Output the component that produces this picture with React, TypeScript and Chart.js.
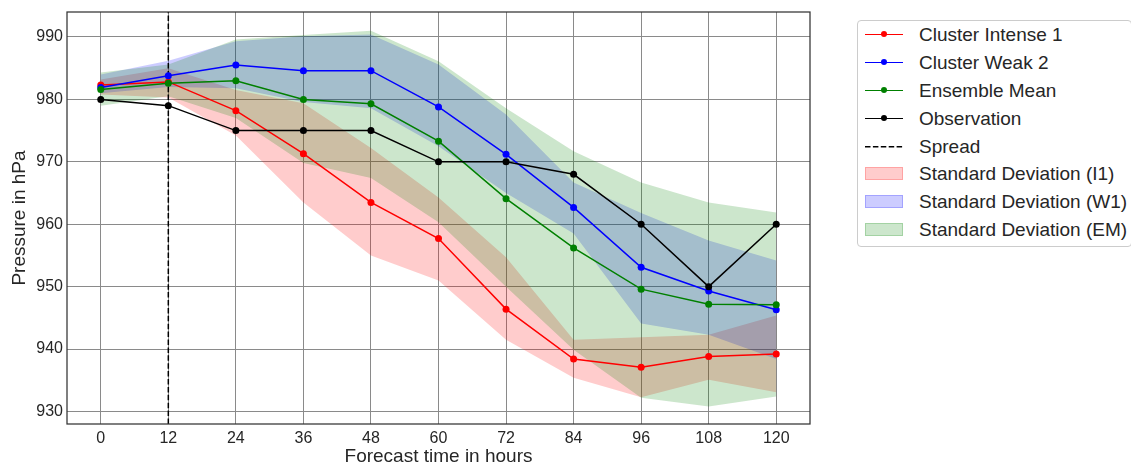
import React, { useEffect, useRef } from "react";
import { Chart, registerables } from "chart.js";

Chart.register(...registerables);

// ---- data ----
const hours = [0, 12, 24, 36, 48, 60, 72, 84, 96, 108, 120];

const intenseMean = [982.3, 982.8, 978.2, 971.3, 963.5, 957.7, 946.4, 938.4, 937.1, 938.8, 939.2];
const intenseUpper = [983.2, 985.0, 981.5, 979.4, 972.2, 964.3, 954.7, 941.5, 941.9, 942.3, 945.4];
const intenseLower = [980.8, 980.3, 974.2, 963.5, 955.0, 951.0, 941.5, 935.4, 932.3, 935.1, 933.1];

const weakMean = [981.9, 983.8, 985.5, 984.6, 984.6, 978.8, 971.2, 962.7, 953.1, 949.3, 946.3];
const weakUpper = [984.0, 986.2, 989.3, 990.1, 990.4, 985.6, 977.6, 966.7, 961.8, 957.4, 954.2];
const weakLower = [981.0, 982.0, 981.8, 979.6, 978.6, 972.5, 965.0, 958.5, 944.1, 942.3, 938.4];

const ensembleMean = [981.6, 982.6, 983.0, 980.0, 979.3, 973.3, 964.1, 956.2, 949.6, 947.2, 947.1];
const ensembleUpper = [984.3, 985.6, 989.6, 990.3, 991.0, 986.1, 978.6, 971.7, 966.7, 963.5, 961.9];
const ensembleLower = [979.0, 980.5, 977.0, 969.8, 967.4, 960.3, 950.0, 939.9, 932.2, 930.8, 932.4];

const observation = [980, 979, 975, 975, 975, 970, 970, 968, 960, 950, 960];

const spreadHour = 12;
const yMin = 928;
const yMax = 994;
const xMin = -6;
const xMax = 126;
const yTicks = [930, 940, 950, 960, 970, 980, 990];
const xTicks = [0, 12, 24, 36, 48, 60, 72, 84, 96, 108, 120];

const legendItems = [
  { label: "Cluster Intense 1", kind: "line", color: "#ff0000" },
  { label: "Cluster Weak 2", kind: "line", color: "#0000ff" },
  { label: "Ensemble Mean", kind: "line", color: "#008000" },
  { label: "Observation", kind: "line", color: "#000000" },
  { label: "Spread", kind: "dash", color: "#000000" },
  { label: "Standard Deviation (I1)", kind: "patch", color: "rgba(255,0,0,0.2)" },
  { label: "Standard Deviation (W1)", kind: "patch", color: "rgba(0,0,255,0.2)" },
  { label: "Standard Deviation (EM)", kind: "patch", color: "rgba(0,128,0,0.2)" },
];

const FONT = "'Liberation Sans', Arial, sans-serif";
const TEXT = "#262626";

const pts = (vals: number[]) => hours.map((h, i) => ({ x: h, y: vals[i] }));

const framePlugin = {
  id: "frame",
  afterDatasetsDraw(chart: any) {
    const { ctx, chartArea } = chart;
    const { left, top, right, bottom } = chartArea;
    ctx.save();
    ctx.strokeStyle = "#333333";
    ctx.lineWidth = 1.25;
    ctx.strokeRect(left, top, right - left, bottom - top);
    ctx.restore();
  },
};

function bandDatasets(lower: number[], upper: number[], color: string, order: number) {
  return [
    {
      label: "lower",
      data: pts(lower),
      borderWidth: 0,
      pointRadius: 0,
      fill: false,
      order,
      borderColor: "rgba(0,0,0,0)",
    },
    {
      label: "upper",
      data: pts(upper),
      borderWidth: 0,
      pointRadius: 0,
      fill: "-1",
      backgroundColor: color,
      borderColor: "rgba(0,0,0,0)",
      order,
    },
  ];
}

function lineDataset(label: string, vals: number[], color: string, order: number) {
  return {
    label,
    data: pts(vals),
    borderColor: color,
    backgroundColor: color,
    pointBackgroundColor: color,
    pointBorderColor: color,
    borderWidth: 1.5,
    pointRadius: 3.5,
    pointBorderWidth: 0,
    fill: false,
    order,
  };
}

function ChartView() {
  const ref = useRef<HTMLCanvasElement | null>(null);
  useEffect(() => {
    if (!ref.current) return;
    const datasets: any[] = [
      ...bandDatasets(intenseLower, intenseUpper, "rgba(255,0,0,0.2)", 10),
      ...bandDatasets(weakLower, weakUpper, "rgba(0,0,255,0.2)", 9),
      ...bandDatasets(ensembleLower, ensembleUpper, "rgba(0,128,0,0.2)", 8),
      {
        label: "Spread",
        data: [
          { x: spreadHour, y: yMin },
          { x: spreadHour, y: yMax },
        ],
        borderColor: "#000000",
        borderWidth: 1.5,
        borderDash: [5.5, 2.4],
        pointRadius: 0,
        fill: false,
        order: 5,
      },
      lineDataset("Cluster Intense 1", intenseMean, "#ff0000", 4),
      lineDataset("Cluster Weak 2", weakMean, "#0000ff", 3),
      lineDataset("Ensemble Mean", ensembleMean, "#008000", 2),
      lineDataset("Observation", observation, "#000000", 1),
    ];
    const chart = new Chart(ref.current, {
      type: "line",
      data: { datasets },
      plugins: [framePlugin],
      options: {
        animation: false,
        responsive: false,
        maintainAspectRatio: false,
        layout: { padding: { top: 2, right: 10, left: 0, bottom: 0 } },
        plugins: {
          legend: { display: false },
          tooltip: { enabled: false },
        },
        elements: { line: { tension: 0 } },
        scales: {
          x: {
            type: "linear",
            min: xMin,
            max: xMax,
            afterBuildTicks: (s: any) => {
              s.ticks = xTicks.map((v) => ({ value: v }));
            },
            afterFit: (s: any) => {
              s.height = 44;
              s.paddingLeft = 0;
              s.paddingRight = 0;
            },
            border: { display: false },
            grid: { color: "#8a8a8a", lineWidth: 1, drawTicks: false },
            ticks: {
              color: TEXT,
              font: { family: FONT, size: 16 },
              padding: 5,
              maxRotation: 0,
              autoSkip: false,
            },
            title: {
              display: true,
              text: "Forecast time in hours",
              color: TEXT,
              font: { family: FONT, size: 19 },
              padding: { top: 0, bottom: 0 },
            },
          },
          y: {
            type: "linear",
            min: yMin,
            max: yMax,
            afterBuildTicks: (s: any) => {
              s.ticks = yTicks.map((v) => ({ value: v }));
            },
            afterFit: (s: any) => {
              s.width = 59;
              s.paddingTop = 0;
              s.paddingBottom = 0;
            },
            border: { display: false },
            grid: { color: "#8a8a8a", lineWidth: 1, drawTicks: false },
            ticks: {
              color: TEXT,
              font: { family: FONT, size: 16 },
              padding: 4,
              autoSkip: false,
            },
            title: {
              display: true,
              text: "Pressure in hPa",
              color: TEXT,
              font: { family: FONT, size: 19 },
              padding: { top: 0.5, bottom: 0 },
            },
          },
        },
      },
    } as any);
    return () => chart.destroy();
  }, []);
  return (
    <canvas
      ref={ref}
      width={812}
      height={460}
      style={{ position: "absolute", left: 8, top: 8, width: 812, height: 460 }}
    />
  );
}

function Legend() {
  return (
    <div
      style={{
        position: "absolute",
        left: 857,
        top: 20,
        width: 273,
        height: 225,
        border: "1px solid #cccccc",
        borderRadius: 4,
        background: "#ffffff",
        fontFamily: FONT,
        fontSize: 19,
        color: TEXT,
        boxSizing: "content-box",
      }}
    >
      {legendItems.map((it, i) => (
        <div
          key={it.label}
          style={{
            position: "absolute",
            left: 0,
            top: i * 27.9,
            height: 27.9,
            width: 273,
            display: "flex",
            alignItems: "center",
          }}
        >
          <div style={{ position: "relative", width: 38, height: 14, marginLeft: 7, flex: "none" }}>
            {it.kind === "line" && (
              <>
                <div
                  style={{
                    position: "absolute",
                    left: 0,
                    top: 6,
                    width: 38,
                    height: 0,
                    borderTop: `1.5px solid ${it.color}`,
                  }}
                />
                <div
                  style={{
                    position: "absolute",
                    left: 16,
                    top: 3.5,
                    width: 6,
                    height: 6,
                    borderRadius: 3,
                    background: it.color,
                  }}
                />
              </>
            )}
            {it.kind === "dash" && (
              <svg width={38} height={14} style={{ position: "absolute", left: 0, top: 0 }}>
                <line x1={0} y1={6.75} x2={38} y2={6.75} stroke={it.color} strokeWidth={1.5} strokeDasharray="5.5 2.4" />
              </svg>
            )}
            {it.kind === "patch" && (
              <div
                style={{
                  position: "absolute",
                  left: 0,
                  top: 0,
                  width: 38,
                  height: 13,
                  background: it.color,
                  boxSizing: "border-box",
                  border: `1px solid ${it.color}`,
                }}
              />
            )}
          </div>
          <span style={{ marginLeft: 16, whiteSpace: "nowrap" }}>{it.label}</span>
        </div>
      ))}
    </div>
  );
}

export default function App() {
  return (
    <div style={{ position: "fixed", left: 0, top: 0, width: 1131, height: 468, overflow: "hidden", background: "#ffffff" }}>
      <ChartView />
      <Legend />
    </div>
  );
}
